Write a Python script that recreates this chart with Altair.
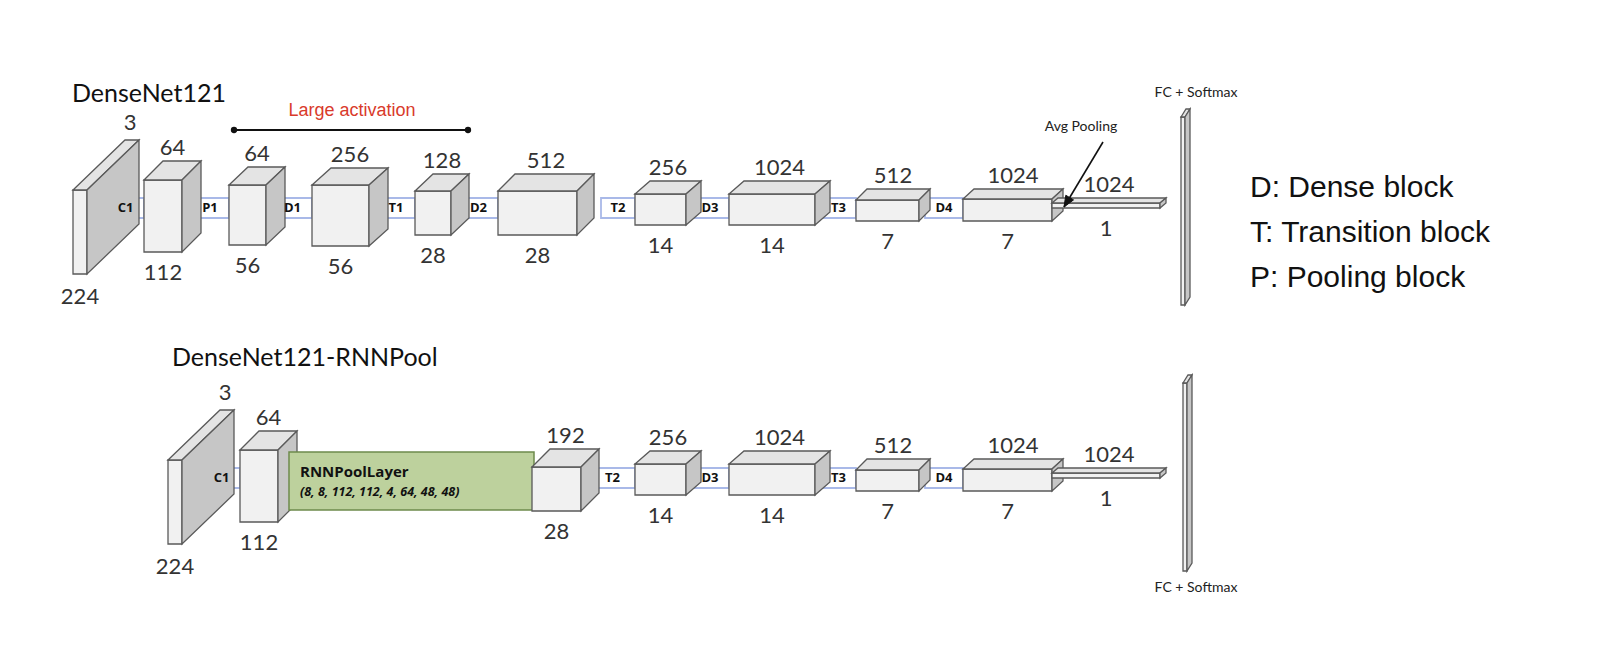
import altair as alt
import math

# ---- labels / content ----
top_title = "DenseNet121"
bottom_title = "DenseNet121-RNNPool"
channels_top = ["3", "64", "64", "256", "128", "512", "256", "1024", "512", "1024", "1024"]
sizes_top = ["224", "112", "56", "56", "28", "28", "14", "14", "7", "7", "1"]
channels_bottom = ["3", "64", "192", "256", "1024", "512", "1024", "1024"]
sizes_bottom = ["224", "112", "28", "14", "14", "7", "7", "1"]
conn_top = ["C1", "P1", "D1", "T1", "D2", "T2", "D3", "T3", "D4"]
conn_bottom = ["C1", "T2", "D3", "T3", "D4"]
legend_lines = ["D: Dense block", "T: Transition block", "P: Pooling block"]
rnn_title = "RNNPoolLayer"
rnn_params = "(8, 8, 112, 112, 4, 64, 48, 48)"

# ---- layout (pixel geometry of the drawing) ----
# x, y, w, h, dx, dy of each cuboid's front face and depth
geo_top = [
    (73, 190, 14, 84, 52, -50),
    (144, 180, 38, 72, 19, -19),
    (229, 185, 37, 60, 19, -18),
    (312, 185, 57, 61, 19, -17),
    (415, 191, 36, 44, 18, -17),
    (498, 191, 79, 44, 17, -17),
    (635, 194, 51, 31, 15, -13),
    (729, 194, 86, 31, 15, -13),
    (856, 200, 63, 21, 11, -11),
    (963, 199, 89, 22, 11, -10),
    (1052, 203, 108, 5, 6, -5),
]
DY = 270
geo_bottom = [
    (168, 190 + DY, 14, 84, 52, -50),
    (240, 180 + DY, 38, 72, 19, -19),
    (532, 467, 49, 44, 18, -18),
] + [(x, y + DY, w, h, dx, dy) for (x, y, w, h, dx, dy) in geo_top[6:]]
conn_x_top = [(107, 144), (191, 229), (273, 312), (377, 415), (459, 498),
              (601, 635), (691, 729), (821, 856), (925, 963)]
conn_x_bottom = [(203, 240), (590, 635), (691, 729), (821, 856), (925, 963)]

FRONT, TOP, SIDE, EDGE = "#f1f1f1", "#e4e4e4", "#c6c6c6", "#5a5a5a"

features = []


def poly(pts, fill, stroke=EDGE, sw=1.3):
    ring = [list(p) for p in pts] + [list(pts[0])]
    features.append({"type": "Feature",
                     "geometry": {"type": "Polygon", "coordinates": [ring]},
                     "properties": {"fill": fill, "stroke": stroke, "sw": sw}})


def line(pts, stroke, sw):
    features.append({"type": "Feature",
                     "geometry": {"type": "LineString", "coordinates": [list(p) for p in pts]},
                     "properties": {"fill": "none", "stroke": stroke, "sw": sw}})


def cuboid(x, y, w, h, dx, dy):
    poly([(x, y), (x + w, y), (x + w, y + h), (x, y + h)], FRONT)
    poly([(x, y), (x + dx, y + dy), (x + w + dx, y + dy), (x + w, y)], TOP)
    poly([(x + w, y), (x + w + dx, y + dy), (x + w + dx, y + h + dy), (x + w, y + h)], SIDE)


texts = []


def num_labels(geo, tops, bots):
    for i, (x, y, w, h, dx, dy) in enumerate(geo):
        if i == 0:
            tx, ty = x + w + dx - 9, y + dy - 17
            bx, by = x + w / 2, y + h + 23
        else:
            tx, ty = x + w / 2 + dx / 2, y + dy - 13
            bx, by = x + w / 2, y + h + 21
        texts.append({"x": tx, "y": ty, "t": tops[i]})
        texts.append({"x": bx, "y": by, "t": bots[i]})


conn_texts = []


def connectors(xs, labels, yc):
    for (x1, x2), lab in zip(xs, labels):
        poly([(x1, yc - 10), (x2, yc - 10), (x2, yc + 10), (x1, yc + 10)], "#ffffff", "#a9b9e8", 1.8)
        conn_texts.append({"x": (x1 + x2) / 2, "y": yc, "t": lab})


# top row
connectors(conn_x_top, conn_top, 208)
for g in geo_top:
    cuboid(*g)
cuboid(1181, 117, 4, 188, 5, -8)
num_labels(geo_top, channels_top, sizes_top)

# bottom row
connectors(conn_x_bottom, conn_bottom, 478)
cuboid(*geo_bottom[0])
cuboid(*geo_bottom[1])
poly([(289, 452), (534, 452), (534, 510), (289, 510)], "#bdd19d", "#6d8a4c", 1.5)
for g in geo_bottom[2:]:
    cuboid(*g)
cuboid(1183, 383, 4, 188, 5, -8)
num_labels(geo_bottom, channels_bottom, sizes_bottom)

# large activation bracket and avg pooling arrow
line([(234, 130), (468, 130)], "#111111", 2)
ax0, ay0, ax1, ay1 = 1103, 142, 1064, 207
line([(ax0, ay0), (ax1, ay1)], "#111111", 1.6)
ux, uy = (ax1 - ax0), (ay1 - ay0)
n = math.hypot(ux, uy)
ux, uy = ux / n, uy / n
bx, by = ax1 - 11 * ux, ay1 - 11 * uy
poly([(ax1, ay1), (bx + 4.5 * uy, by - 4.5 * ux), (bx - 4.5 * uy, by + 4.5 * ux)], "#111111", "#111111", 1)

proj = dict(type="identity", scale=1, translate=[-8, -8])

shapes = alt.Chart(alt.Data(values=features)).mark_geoshape().encode(
    fill=alt.Fill("properties.fill:N", scale=None),
    stroke=alt.Stroke("properties.stroke:N", scale=None),
    strokeWidth=alt.StrokeWidth("properties.sw:Q", scale=None),
).project(**proj)


def text_layer(rows, **kw):
    return alt.Chart(alt.Data(values=rows)).mark_text(baseline="middle", **kw).encode(
        longitude="x:Q", latitude="y:Q", text="t:N").project(**proj)


numbers = text_layer(texts, font="Lato", fontSize=22, color="#333333")
conns = text_layer(conn_texts, font="Open Sans", fontSize=13, fontWeight="bold", color="#111111")
titles = text_layer([{"x": 72, "y": 94, "t": top_title}, {"x": 172, "y": 358, "t": bottom_title}],
                    font="Lato", fontSize=25, color="#111111", align="left")
red = text_layer([{"x": 352, "y": 111, "t": "Large activation"}],
                 font="Liberation Sans", fontSize=18, color="#d93a2b")
small = text_layer([{"x": 1196, "y": 93, "t": "FC + Softmax"}, {"x": 1196, "y": 588, "t": "FC + Softmax"},
                    {"x": 1081, "y": 127, "t": "Avg Pooling"}],
                   font="Lato", fontSize=14, color="#222222")
rnn = text_layer([{"x": 300, "y": 472, "t": rnn_title}], font="Open Sans", fontSize=15,
                 fontWeight="bold", color="#111111", align="left")
rnnp = text_layer([{"x": 300, "y": 492, "t": rnn_params}], font="Open Sans", fontSize=12.5,
                  fontWeight="bold", fontStyle="italic", color="#111111", align="left")
legend = text_layer([{"x": 1250, "y": 188 + 45 * i, "t": s} for i, s in enumerate(legend_lines)],
                    font="Liberation Sans", fontSize=30, color="#111111", align="left")
dots = alt.Chart(alt.Data(values=[{"x": 234, "y": 130}, {"x": 468, "y": 130}])).mark_circle(
    size=40, color="#111111", opacity=1).encode(longitude="x:Q", latitude="y:Q").project(**proj)

chart = alt.layer(shapes, dots, numbers, conns, titles, red, small, rnn, rnnp, legend).properties(
    width=1600, height=644, autosize=alt.AutoSizeParams(type="none"), padding=0
).configure_view(stroke=None)

chart.save("out.html", embed_options={"renderer": "svg", "actions": False})
